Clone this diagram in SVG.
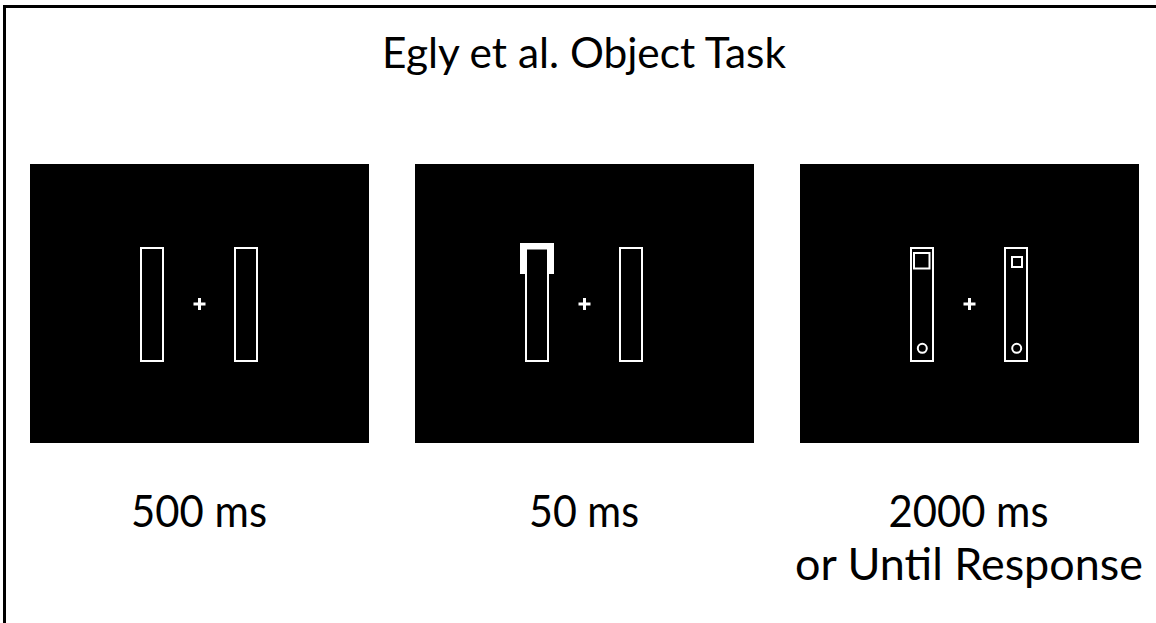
<svg xmlns="http://www.w3.org/2000/svg" width="1156" height="623" viewBox="0 0 1156 623">
  <style>
    .frame { fill: none; stroke: #000; stroke-width: 3; }
    .screen { fill: #000; }
    .bar { fill: none; stroke: #fff; stroke-width: 2; }
    .fix { fill: #fff; }
    .cue { fill: #fff; }
    .label { font-family: "Lato", "Liberation Sans", sans-serif; fill: #000; text-anchor: middle; }
  </style>
  <defs>
    <!-- two vertical bars and a fixation cross, shared by every screen -->
    <g id="display">
      <rect class="bar" x="111" y="84" width="22" height="113"/>
      <rect class="bar" x="205" y="84" width="22" height="113"/>
      <rect class="fix" x="163.5" y="138.5" width="12" height="3"/>
      <rect class="fix" x="168" y="134" width="3" height="12"/>
    </g>
  </defs>

  <!-- outer frame: top and left edges -->
  <path class="frame" d="M4.5 623 V6.5 H1156"/>

  <text class="label" x="584" y="68" font-size="42" textLength="404" lengthAdjust="spacingAndGlyphs">Egly et al. Object Task</text>

  <g id="screen-fixation">
    <rect class="screen" x="30" y="164" width="339" height="279"/>
    <use href="#display" x="30" y="164"/>
    <text class="label" x="199" y="527" font-size="44" textLength="136" lengthAdjust="spacingAndGlyphs">500 ms</text>
  </g>

  <g id="screen-cue">
    <rect class="screen" x="415" y="164" width="339" height="279"/>
    <use href="#display" x="415" y="164"/>
    <!-- thickened outline at the top end of the left bar -->
    <path class="cue" d="M520 243 H554 V274 H547.5 V249.5 H526.5 V274 H520 Z"/>
    <text class="label" x="584" y="527" font-size="44" textLength="110" lengthAdjust="spacingAndGlyphs">50 ms</text>
  </g>

  <g id="screen-target">
    <rect class="screen" x="800" y="164" width="339" height="279"/>
    <use href="#display" x="800" y="164"/>
    <rect class="bar" x="914" y="253" width="15.5" height="15.5"/>
    <rect class="bar" x="1012" y="257" width="10" height="10"/>
    <circle class="bar" cx="922.3" cy="348.3" r="4.5"/>
    <circle class="bar" cx="1016.7" cy="348.3" r="4.5"/>
    <text class="label" x="968.5" y="527" font-size="44" textLength="160" lengthAdjust="spacingAndGlyphs">2000 ms</text>
    <text class="label" x="969" y="580" font-size="44" textLength="348" lengthAdjust="spacingAndGlyphs">or Until Response</text>
  </g>
</svg>
